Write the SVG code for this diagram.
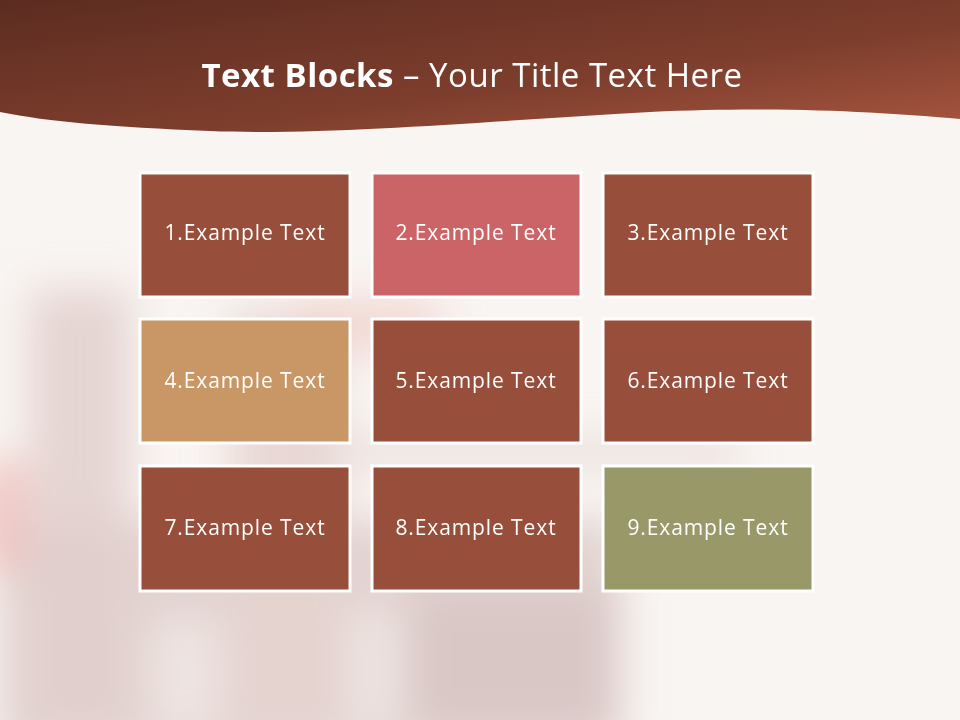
<svg xmlns="http://www.w3.org/2000/svg" width="960" height="720" viewBox="0 0 960 720">
<defs>
<linearGradient id="hdr" x1="0" y1="0" x2="1" y2="1">
<stop offset="0" stop-color="#5c2c20"/>
<stop offset="0.6" stop-color="#7e3e2d"/>
<stop offset="1" stop-color="#a7563f"/>
</linearGradient>
<filter id="blur" x="-50%" y="-50%" width="200%" height="200%"><feGaussianBlur stdDeviation="20"/></filter>
<style>
.box{stroke:#ffffff;stroke-width:3}
.brown{fill:#974e3a}
.pink{fill:#cb6466}
.tan{fill:#c99766}
.olive{fill:#999868}
.lbl{font-family:"Open Sans","Liberation Sans",sans-serif;font-size:21px;letter-spacing:0.9px;fill:#ffffff;text-anchor:middle}
.title{font-family:"Open Sans","Liberation Sans",sans-serif;font-size:33px;letter-spacing:0.5px;fill:#ffffff;text-anchor:middle}
</style>
</defs>
<rect width="960" height="720" fill="#f9f5f2"/>
<g filter="url(#blur)">
<rect x="0" y="520" width="620" height="230" fill="#ddcdca" opacity="0.85"/>
<rect x="30" y="290" width="100" height="440" fill="#e2cfcc" opacity="0.85"/>
<rect x="-20" y="460" width="45" height="110" fill="#f0c0bd" opacity="0.9"/>
<rect x="230" y="310" width="110" height="420" fill="#e6d3d0" opacity="0.85"/>
<rect x="300" y="300" width="140" height="50" fill="#f0d0cb" opacity="0.8"/>
<rect x="280" y="440" width="460" height="25" fill="#e5d5d2" opacity="0.8"/>
<rect x="410" y="590" width="210" height="140" fill="#d8c6c4" opacity="0.85"/>
<rect x="150" y="620" width="70" height="110" fill="#f3ebe9" opacity="0.7"/>
<rect x="350" y="610" width="50" height="120" fill="#f3ebe9" opacity="0.7"/>
</g>
<path d="M0 0 H960 V119 C880 112 780 106 650 112 C500 120 330 136 210 131 C110 127 50 122 0 112 Z" fill="url(#hdr)"/>
<text class="title" x="472" y="87"><tspan font-weight="bold">Text Blocks</tspan> – Your Title Text Here</text>
<g id="node1"><rect class="box brown" x="140" y="173" width="210" height="124"/><text class="lbl" x="245" y="240">1.Example Text</text></g>
<g id="node2"><rect class="box pink" x="372" y="173" width="209" height="124"/><text class="lbl" x="476" y="240">2.Example Text</text></g>
<g id="node3"><rect class="box brown" x="603" y="173" width="210" height="124"/><text class="lbl" x="708" y="240">3.Example Text</text></g>
<g id="node4"><rect class="box tan" x="140" y="319" width="210" height="124"/><text class="lbl" x="245" y="388">4.Example Text</text></g>
<g id="node5"><rect class="box brown" x="372" y="319" width="209" height="124"/><text class="lbl" x="476" y="388">5.Example Text</text></g>
<g id="node6"><rect class="box brown" x="603" y="319" width="210" height="124"/><text class="lbl" x="708" y="388">6.Example Text</text></g>
<g id="node7"><rect class="box brown" x="140" y="466" width="210" height="125"/><text class="lbl" x="245" y="535">7.Example Text</text></g>
<g id="node8"><rect class="box brown" x="372" y="466" width="209" height="125"/><text class="lbl" x="476" y="535">8.Example Text</text></g>
<g id="node9"><rect class="box olive" x="603" y="466" width="210" height="125"/><text class="lbl" x="708" y="535">9.Example Text</text></g>
<g id="connectors"/>
</svg>
